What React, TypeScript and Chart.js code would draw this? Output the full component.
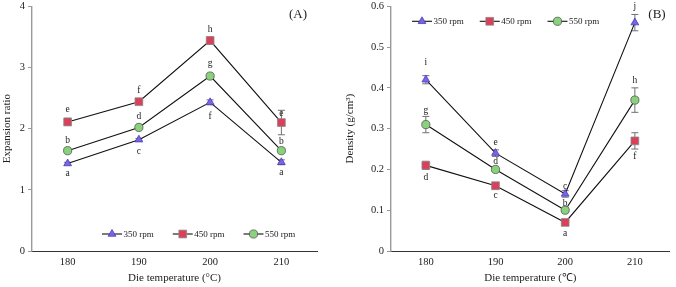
import React, { useEffect, useRef } from 'react';
import { Chart, registerables } from 'chart.js';

Chart.register(...registerables);

// ---------- data ----------
const categories = ['180', '190', '200', '210'];
const seriesLabels = ['350 rpm', '450 rpm', '550 rpm'];

const expansion350 = [1.43, 1.82, 2.43, 1.45];
const expansion450 = [2.11, 2.44, 3.44, 2.1];
const expansion550 = [1.64, 2.02, 2.86, 1.64];
const expansionErr350 = [0.02, 0.02, 0.04, 0.04];
const expansionErr450 = [0.06, 0.02, 0.06, 0.2];
const expansionErr550 = [0.02, 0.02, 0.02, 0.02];
const expansionLetters350 = ['a', 'c', 'f', 'a'];
const expansionLetters450 = ['e', 'f', 'h', 'e'];
const expansionLetters550 = ['b', 'd', 'g', 'b'];

const density350 = [0.42, 0.24, 0.14, 0.56];
const density450 = [0.21, 0.16, 0.07, 0.27];
const density550 = [0.31, 0.2, 0.1, 0.37];
const densityErr350 = [0.01, 0.008, 0.008, 0.02];
const densityErr450 = [0.01, 0.003, 0.003, 0.02];
const densityErr550 = [0.02, 0.003, 0.003, 0.03];
const densityLetters350 = ['i', 'e', 'c', 'j'];
const densityLetters450 = ['d', 'c', 'a', 'f'];
const densityLetters550 = ['g', 'd', 'b', 'h'];

const expansionYMin = 0;
const expansionYMax = 4;
const expansionYStep = 1;
const densityYMin = 0;
const densityYMax = 0.6;
const densityYStep = 0.1;

// ---------- styles ----------
const FONT = "'Liberation Serif', 'Times New Roman', serif";
const TEXT = '#222';
const markerStyles = [
  { style: 'triangle', radius: 4.5, fill: '#7765e8', stroke: '#4b3fb5' },
  { style: 'rect', radius: 5.5, fill: '#d9405a', stroke: '#8a8a8a' },
  { style: 'circle', radius: 4.1, fill: '#88d27c', stroke: '#555555' },
];
// letter label pixel offsets (positive = below point)
const expansionLetterDy = [
  [10, 12, 14, 10],
  [-12, -11, -11, -9],
  [-10, -11, -13, -9],
];
const densityLetterDy = [
  [-17, -11, -7, -16],
  [12, 10, 11, 16],
  [-14, -8, -7, -20],
];

function drawMarker(ctx: CanvasRenderingContext2D, m: any, x: number, y: number) {
  ctx.save();
  ctx.beginPath();
  const r = m.radius;
  if (m.style === 'triangle') {
    let rad = 0;
    ctx.moveTo(x + Math.sin(rad) * r, y - Math.cos(rad) * r);
    rad += (2 * Math.PI) / 3;
    ctx.lineTo(x + Math.sin(rad) * r, y - Math.cos(rad) * r);
    rad += (2 * Math.PI) / 3;
    ctx.lineTo(x + Math.sin(rad) * r, y - Math.cos(rad) * r);
    ctx.closePath();
  } else if (m.style === 'rect') {
    const s = Math.SQRT1_2 * r;
    ctx.rect(x - s, y - s, 2 * s, 2 * s);
  } else {
    ctx.arc(x, y, r, 0, Math.PI * 2);
  }
  ctx.fillStyle = m.fill;
  ctx.fill();
  ctx.lineWidth = 0.8;
  ctx.strokeStyle = m.stroke;
  ctx.stroke();
  ctx.restore();
}

function makeOverlayPlugin(cfg: any) {
  return {
    id: 'overlay_' + cfg.panel,
    beforeDatasetsDraw(chart: any) {
      const ctx = chart.ctx;
      const x = chart.scales.x;
      const y = chart.scales.y;
      ctx.save();
      ctx.strokeStyle = '#707070';
      ctx.lineWidth = 1;
      cfg.values.forEach((vals: number[], si: number) => {
        vals.forEach((v, i) => {
          const e = cfg.errors[si][i];
          const px = x.getPixelForValue(i);
          const top = y.getPixelForValue(v + e);
          const bot = y.getPixelForValue(v - e);
          ctx.beginPath();
          ctx.moveTo(px, top);
          ctx.lineTo(px, bot);
          ctx.moveTo(px - 3.5, top);
          ctx.lineTo(px + 3.5, top);
          ctx.moveTo(px - 3.5, bot);
          ctx.lineTo(px + 3.5, bot);
          ctx.stroke();
        });
      });
      ctx.restore();
    },
    afterDraw(chart: any) {
      const ctx = chart.ctx;
      const x = chart.scales.x;
      const y = chart.scales.y;
      const area = chart.chartArea;
      ctx.save();
      // significance letters
      ctx.font = `9.5px ${FONT}`;
      ctx.fillStyle = TEXT;
      ctx.textAlign = 'center';
      ctx.textBaseline = 'middle';
      cfg.values.forEach((vals: number[], si: number) => {
        vals.forEach((v, i) => {
          const px = x.getPixelForValue(i);
          const py = y.getPixelForValue(v);
          ctx.fillText(cfg.letters[si][i], px, py + cfg.letterDy[si][i]);
        });
      });
      // legend
      let lx = area.left + cfg.legendX;
      const ly = cfg.legendFromBottom ? area.bottom - cfg.legendY : area.top + cfg.legendY;
      ctx.textAlign = 'left';
      seriesLabels.forEach((lab, si) => {
        ctx.strokeStyle = '#111';
        ctx.lineWidth = 1.1;
        ctx.beginPath();
        ctx.moveTo(lx, ly);
        ctx.lineTo(lx + 20, ly);
        ctx.stroke();
        drawMarker(ctx, markerStyles[si], lx + 10, ly);
        ctx.fillStyle = TEXT;
        ctx.font = `9px ${FONT}`;
        ctx.fillText(lab, lx + 21.5, ly + 0.5);
        lx += 21.5 + ctx.measureText(lab).width + cfg.legendGap;
      });
      // panel label
      ctx.font = `13px ${FONT}`;
      ctx.textAlign = 'center';
      ctx.fillText(cfg.panel, cfg.panelX, cfg.panelY);
      ctx.restore();
    },
  };
}

function buildChart(canvas: HTMLCanvasElement, cfg: any) {
  const datasets = cfg.values.map((vals: number[], si: number) => ({
    label: seriesLabels[si],
    data: vals,
    borderColor: '#111',
    borderWidth: 1.1,
    tension: 0,
    pointStyle: markerStyles[si].style,
    pointRadius: markerStyles[si].radius,
    pointBackgroundColor: markerStyles[si].fill,
    pointBorderColor: markerStyles[si].stroke,
    pointBorderWidth: 0.8,
  }));
  return new Chart(canvas, {
    type: 'line',
    data: { labels: categories, datasets },
    options: {
      responsive: false,
      animation: false,
      devicePixelRatio: 1,
      layout: { padding: { left: 0, right: cfg.padRight, top: 5, bottom: 0 } },
      plugins: { legend: { display: false }, tooltip: { enabled: false } },
      scales: {
        x: {
          type: 'category',
          offset: true,
          grid: { display: false, drawTicks: false, tickLength: 0 },
          border: { display: true, color: '#333', width: 1 },
          ticks: { padding: 5, font: { family: FONT, size: 10.5 }, color: TEXT },
          title: {
            display: true,
            text: cfg.xTitle,
            font: { family: FONT, size: 11 },
            color: TEXT,
            padding: { top: 0, bottom: 2 },
          },
          afterFit: (s: any) => {
            s.height = 36;
            s.paddingLeft = 0;
            s.paddingRight = 0;
          },
        },
        y: {
          min: cfg.yMin,
          max: cfg.yMax,
          ticks: {
            stepSize: cfg.yStep,
            padding: 3,
            font: { family: FONT, size: 10.5 },
            color: TEXT,
            callback: (v: any) => cfg.fmt(Number(v)),
          },
          grid: { display: true, drawOnChartArea: false, drawTicks: true, tickLength: 4, color: '#999' },
          border: { display: true, color: '#999', width: 1.4 },
          title: {
            display: true,
            text: cfg.yTitle,
            font: { family: FONT, size: 11 },
            color: TEXT,
            padding: { top: cfg.yTitlePad, bottom: 0 },
          },
          afterFit: (s: any) => {
            s.width = cfg.yWidth;
            s.paddingTop = 0;
            s.paddingBottom = 0;
          },
        },
      },
    },
    plugins: [makeOverlayPlugin(cfg)],
  } as any);
}

const panelA = {
  panel: '(A)',
  values: [expansion350, expansion450, expansion550],
  errors: [expansionErr350, expansionErr450, expansionErr550],
  letters: [expansionLetters350, expansionLetters450, expansionLetters550],
  letterDy: expansionLetterDy,
  yMin: expansionYMin,
  yMax: expansionYMax,
  yStep: expansionYStep,
  fmt: (v: number) => String(Math.round(v)),
  xTitle: 'Die temperature (°C)',
  yTitle: 'Expansion ratio',
  yTitlePad: 1,
  yWidth: 32,
  padRight: 21,
  legendX: 70,
  legendY: 17,
  legendFromBottom: true,
  legendGap: 19,
  panelX: 298,
  panelY: 15,
};

const panelB = {
  panel: '(B)',
  values: [density350, density450, density550],
  errors: [densityErr350, densityErr450, densityErr550],
  letters: [densityLetters350, densityLetters450, densityLetters550],
  letterDy: densityLetterDy,
  yMin: densityYMin,
  yMax: densityYMax,
  yStep: densityYStep,
  fmt: (v: number) => (Math.abs(v) < 1e-9 ? '0' : v.toFixed(1)),
  xTitle: 'Die temperature (℃)',
  yTitle: 'Density (g/cm³)',
  yTitlePad: 6,
  yWidth: 53,
  padRight: 1,
  legendX: 21,
  legendY: 15,
  legendFromBottom: false,
  legendGap: 16,
  panelX: 319,
  panelY: 15,
};

export default function App() {
  const refA = useRef<HTMLCanvasElement>(null);
  const refB = useRef<HTMLCanvasElement>(null);
  useEffect(() => {
    Chart.defaults.font.family = FONT;
    const a = buildChart(refA.current!, panelA);
    const b = buildChart(refB.current!, panelB);
    return () => {
      a.destroy();
      b.destroy();
    };
  }, []);
  return (
    <div style={{ position: 'absolute', left: 0, top: 0, width: 676, height: 287, background: '#fff' }}>
      <canvas ref={refA} width={338} height={287} style={{ position: 'absolute', left: 0, top: 0, width: 338, height: 287 }} />
      <canvas ref={refB} width={338} height={287} style={{ position: 'absolute', left: 338, top: 0, width: 338, height: 287 }} />
    </div>
  );
}
